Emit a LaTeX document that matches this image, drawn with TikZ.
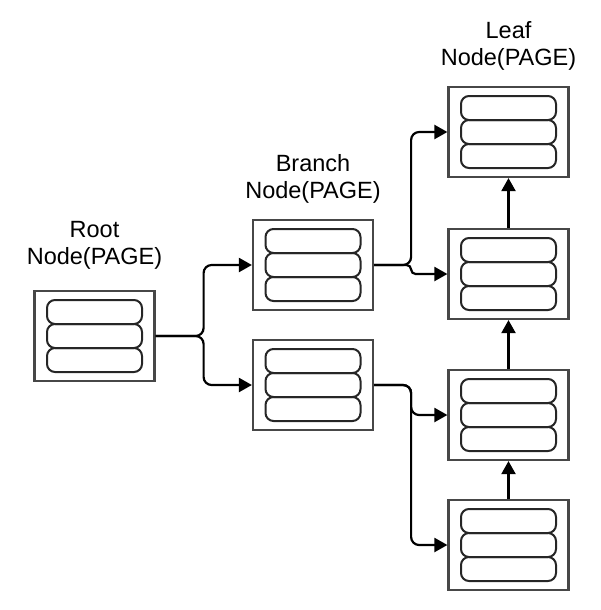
\documentclass[tikz,border=0pt]{standalone}
\usepackage{fontspec}
\setmainfont{Liberation Sans}
\usepackage{tikz}
\usetikzlibrary{arrows.meta}
\tikzset{>={Triangle[length=13pt,width=14pt]}}
\tikzset{
  page/.style={draw=black!72, line width=2.2pt, minimum width=120pt, minimum height=90pt, inner sep=0pt},
  link/.style={->, line width=2.2pt, rounded corners=8pt},
  lbl/.style={align=center, inner sep=0pt, anchor=south, font=\fontsize{23.5}{27}\selectfont},
  pills/.pic={
    \foreach \k in {-36,-12,12}
      \draw[line width=2pt, draw=black!85, rounded corners=8pt] (-47.5,\k) rectangle ++(95,24);
  }
}

\begin{document}
\begin{tikzpicture}[x=1pt, y=-1pt]
  \useasboundingbox (0,0) rectangle (601,610);
  % pages
  \node[page] (root) at (94.5, 336) {};
  \node[page] (branchA) at (313, 265) {};
  \node[page] (branchB) at (313, 385) {};
  \node[page] (leafA) at (508.5, 132) {};
  \node[page] (leafB) at (508.5, 274) {};
  \node[page] (leafC) at (508.5, 415) {};
  \node[page] (leafD) at (508.5, 545) {};
  \foreach \p in {root, branchA, branchB, leafA, leafB, leafC, leafD}
    \pic at (\p) {pills};
  % titles
  \node[lbl] (rootlbl) at (94.5, 270) {Root\\Node(PAGE)};
  \node[lbl] (branchlbl) at (313, 204) {Branch\\Node(PAGE)};
  \node[lbl] (leaflbl) at (508.5, 71) {Leaf\\Node(PAGE)};
  % links
  \draw[link] (root.east) -- ++(48,0) |- (branchA.west);
  \draw[link] (root.east) -- ++(48,0) |- (branchB.west);
  \draw[link] (branchA.east) -- ++(37,0) |- (leafA.west);
  \draw[link, rounded corners=4.5pt] (branchA.east) -- ++(37,0) |- (leafB.west);
  \draw[link] (branchB.east) -- ++(37,0) |- (leafC.west);
  \draw[link] (branchB.east) -- ++(37,0) |- (leafD.west);
  \draw[link] (leafB.north) -- (leafA.south);
  \draw[link] (leafC.north) -- (leafB.south);
  \draw[link] (leafD.north) -- (leafC.south);
\end{tikzpicture}
\end{document}
